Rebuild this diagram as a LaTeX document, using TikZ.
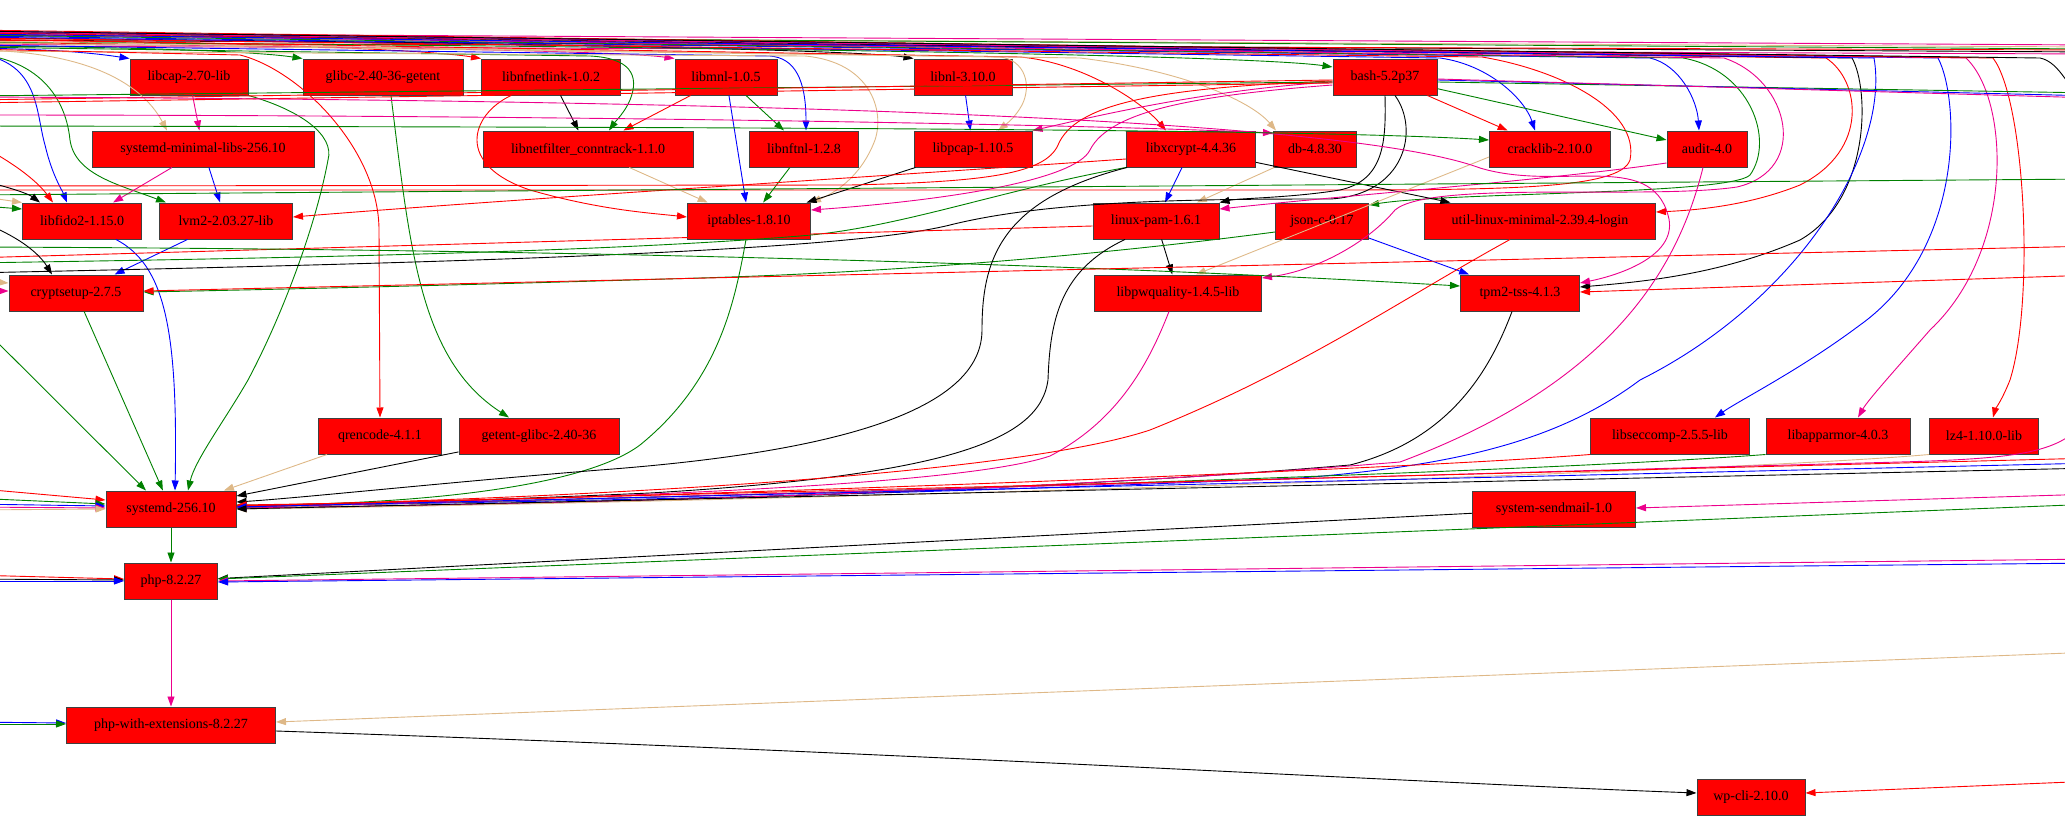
\documentclass[tikz,border=0pt]{standalone}
\usepackage{fontspec}
\setmainfont{Liberation Serif}
\usepackage{tikz}
\usetikzlibrary{arrows.meta}
\definecolor{dgreen}{HTML}{008000}
\definecolor{burly}{HTML}{DEB887}

\begin{document}
\begin{tikzpicture}[x=1pt,y=-1pt,->,>={Triangle[length=10pt,width=7pt]},line width=0.9pt]
  \tikzstyle{pkg}=[draw=black!75,fill=red,line width=1pt,minimum height=36pt,inner sep=0pt,font=\fontsize{14}{16}\selectfont]
  \useasboundingbox (0,0) rectangle (2065,819);

  \node[pkg,minimum width=118pt] (libcap)     at (189,77)   {libcap-2.70-lib};
  \node[pkg,minimum width=160pt] (glibcget)   at (383,77)   {glibc-2.40-36-getent};
  \node[pkg,minimum width=139pt] (nfnetlink)  at (551,77)   {libnfnetlink-1.0.2};
  \node[pkg,minimum width=102pt] (libmnl)     at (726,77)   {libmnl-1.0.5};
  \node[pkg,minimum width=98pt]  (libnl)      at (963,77)   {libnl-3.10.0};
  \node[pkg,minimum width=104pt] (bash)       at (1385,77)  {bash-5.2p37};

  \node[pkg,minimum width=222pt] (sysmin)     at (203,149)  {systemd-minimal-libs-256.10};
  \node[pkg,minimum width=210pt] (conntrack)  at (588,149)  {libnetfilter\_conntrack-1.1.0};
  \node[pkg,minimum width=109pt] (nftnl)      at (804,149)  {libnftnl-1.2.8};
  \node[pkg,minimum width=118pt] (libpcap)    at (973,149)  {libpcap-1.10.5};
  \node[pkg,minimum width=129pt] (libxcrypt)  at (1191,149) {libxcrypt-4.4.36};
  \node[pkg,minimum width=83pt]  (db)         at (1315,149) {db-4.8.30};
  \node[pkg,minimum width=121pt] (cracklib)   at (1550,149) {cracklib-2.10.0};
  \node[pkg,minimum width=80pt]  (audit)      at (1707,149) {audit-4.0};

  \node[pkg,minimum width=119pt] (libfido)    at (82,221)   {libfido2-1.15.0};
  \node[pkg,minimum width=133pt] (lvm)        at (226,221)  {lvm2-2.03.27-lib};
  \node[pkg,minimum width=123pt] (iptables)   at (749,221)  {iptables-1.8.10};
  \node[pkg,minimum width=126pt] (pam)        at (1156,221) {linux-pam-1.6.1};
  \node[pkg,minimum width=93pt]  (jsonc)      at (1322,221) {json-c-0.17};
  \node[pkg,minimum width=231pt] (utillinux)  at (1540,221) {util-linux-minimal-2.39.4-login};

  \node[pkg,minimum width=134pt] (cryptsetup) at (76,293)   {cryptsetup-2.7.5};
  \node[pkg,minimum width=167pt] (pwquality)  at (1178,293) {libpwquality-1.4.5-lib};
  \node[pkg,minimum width=119pt] (tpm)        at (1520,293) {tpm2-tss-4.1.3};

  \node[pkg,minimum width=123pt] (qrencode)   at (380,436)  {qrencode-4.1.1};
  \node[pkg,minimum width=160pt] (getent)     at (539,436)  {getent-glibc-2.40-36};
  \node[pkg,minimum width=159pt] (seccomp)    at (1670,436) {libseccomp-2.5.5-lib};
  \node[pkg,minimum width=144pt] (apparmor)   at (1838,436) {libapparmor-4.0.3};
  \node[pkg,minimum width=109pt] (lz4)        at (1984,436) {lz4-1.10.0-lib};

  \node[pkg,minimum width=130pt] (systemd)    at (171,509)  {systemd-256.10};
  \node[pkg,minimum width=163pt] (sendmail)   at (1554,509) {system-sendmail-1.0};
  \node[pkg,minimum width=93pt]  (php)        at (171,581)  {php-8.2.27};
  \node[pkg,minimum width=209pt] (phpext)     at (171,725)  {php-with-extensions-8.2.27};
  \node[pkg,minimum width=108pt] (wpcli)      at (1751,797) {wp-cli-2.10.0};

  \coordinate (l1) at (-30,48);  \coordinate (l2) at (-30,46);  \coordinate (l3) at (-30,40);
  \coordinate (l4) at (-30,44);  \coordinate (l5) at (-30,38);  \coordinate (l6) at (-30,42);
  \coordinate (l7) at (-30,50);  \coordinate (l8) at (-30,47);  \coordinate (l9) at (-30,45);
  \coordinate (l10) at (-30,41); \coordinate (l11) at (-30,39); \coordinate (l12) at (-30,43);
  \coordinate (l13) at (-30,37); \coordinate (l14) at (-30,36); \coordinate (l15) at (-30,35);
  \coordinate (l16) at (-30,34); \coordinate (l17) at (-30,33); \coordinate (l18) at (-30,32);
  \coordinate (l19) at (-30,34); \coordinate (l20) at (-30,31); \coordinate (l21) at (-30,32);
  \coordinate (l22) at (-30,30); \coordinate (l23) at (-30,31); \coordinate (l24) at (-30,49);
  \coordinate (l25) at (-30,38); \coordinate (l26) at (-30,190); \coordinate (l27) at (-30,53);
  \coordinate (l28) at (-30,54); \coordinate (l29) at (-30,51);
  \coordinate (l30) at (-30,33); \coordinate (l31) at (-30,36); \coordinate (l32) at (-30,40);
  \coordinate (l33) at (-30,43); \coordinate (l34) at (-30,46); \coordinate (l35) at (-30,35);
  \coordinate (l36) at (-30,96); \coordinate (l37) at (-30,100); \coordinate (l38) at (-30,103);
  \coordinate (l39) at (-30,97); \coordinate (l40) at (-30,115); \coordinate (l41) at (-30,126);
  \coordinate (l42) at (-30,140); \coordinate (l43) at (-30,178); \coordinate (l44) at (-30,186);
  \coordinate (l45) at (-30,195); \coordinate (l46) at (-30,195); \coordinate (l47) at (-30,205);
  \coordinate (l48) at (-30,218); \coordinate (l49) at (-30,247); \coordinate (l50) at (-30,258);
  \coordinate (l51) at (-30,263); \coordinate (l52) at (-30,273); \coordinate (l53) at (-30,280);
  \coordinate (l54) at (-30,291); \coordinate (l55) at (-30,315);
  \coordinate (l56) at (-30,488); \coordinate (l57) at (-30,498); \coordinate (l58) at (-30,504);
  \coordinate (l59) at (-30,507); \coordinate (l60) at (-30,510);
  \coordinate (l61) at (-30,575); \coordinate (l62) at (-30,579); \coordinate (l63) at (-30,581);
  \coordinate (l64) at (-30,722); \coordinate (l65) at (-30,724);

  \coordinate (r1) at (2095,120); \coordinate (r2) at (2095,45); \coordinate (r3) at (2095,47);
  \coordinate (r4) at (2095,52);  \coordinate (r5) at (2095,50); \coordinate (r6) at (2095,54);
  \coordinate (r7) at (2095,49);  \coordinate (r8) at (2095,179); \coordinate (r9) at (2095,93);
  \coordinate (r10) at (2095,96); \coordinate (r11) at (2095,98); \coordinate (r12) at (2095,246);
  \coordinate (r13) at (2095,275); \coordinate (r14) at (2095,410); \coordinate (r15) at (2095,458);
  \coordinate (r16) at (2095,463); \coordinate (r17) at (2095,468); \coordinate (r18) at (2095,494);
  \coordinate (r19) at (2095,504); \coordinate (r20) at (2095,559); \coordinate (r21) at (2095,563);
  \coordinate (r22) at (2095,652); \coordinate (r23) at (2095,781);

  \draw[magenta] (l30) -- (r2);
  \draw[burly] (l31) -- (r3);
  \draw (l32) -- (r4);
  \draw[red] (l33) -- (r5);
  \draw[magenta] (l34) -- (r6);
  \draw[dgreen] (l35) -- (r7);

  \draw[blue] (l1) .. controls (60,49) and (100,54) .. (libcap.north west);
  \draw[dgreen] (l2) .. controls (150,47) and (260,52) .. (glibcget.north west);
  \draw[red] (l3) .. controls (250,42) and (430,50) .. (nfnetlink.north west);
  \draw[magenta] (l4) .. controls (350,46) and (620,51) .. (libmnl.north west);
  \draw (l5) .. controls (500,42) and (860,50) .. (libnl.north west);
  \draw[dgreen] (l6) .. controls (700,46) and (1250,55) .. ([yshift=10pt]bash.west);

  \draw[burly] (l7) .. controls (80,50) and (140,80) .. ([xshift=-36pt]sysmin.north);
  \draw[dgreen] (l8) -- (590,56) .. controls (630,58) and (640,75) .. (630,100) .. controls (625,112) and (615,122) .. ([xshift=21pt]conntrack.north);
  \draw[blue] (l9) -- (770,56) .. controls (795,58) and (806,80) .. ([xshift=2pt]nftnl.north);
  \draw[burly] (l10) -- (1000,57) .. controls (1025,60) and (1032,85) .. (1022,105) .. controls (1015,118) and (1005,125) .. ([xshift=25pt]libpcap.north);
  \draw[red] (l11) -- (1020,57) .. controls (1080,62) and (1140,100) .. ([xshift=-25pt]libxcrypt.north);
  \draw[burly] (l12) -- (1080,58) .. controls (1180,70) and (1250,100) .. ([xshift=-39pt]db.north);
  \draw[blue] (l13) -- (1440,58) .. controls (1490,65) and (1525,100) .. ([xshift=-15pt]cracklib.north);
  \draw[blue] (l14) -- (1650,58) .. controls (1680,65) and (1697,100) .. ([xshift=-8pt]audit.north);
  \draw[burly] (l29) -- (805,56) .. controls (870,62) and (885,110) .. (875,140) .. controls (860,180) and (830,195) .. (iptables.north east);

  \draw[dgreen] (l15) -- (1683,58) .. controls (1750,70) and (1775,140) .. (1750,175) .. controls (1730,195) and (1450,192) .. ([yshift=16pt]jsonc.east);
  \draw[magenta] (l16) -- (1724,58) .. controls (1790,80) and (1810,170) .. (1737,187) .. controls (1650,200) and (1430,180) .. (1395,210) .. controls (1370,240) and (1320,270) .. ([yshift=15pt]pwquality.east);
  \draw[red] (l17) -- (1826,58) .. controls (1860,80) and (1870,150) .. (1800,185) .. controls (1750,205) and (1700,210) .. ([yshift=9pt]utillinux.east);
  \draw (l18) -- (1852,58) .. controls (1870,90) and (1870,200) .. (1800,240) .. controls (1720,275) and (1640,282) .. ([yshift=6pt]tpm.east);
  \draw[blue] (l19) -- (1874,58) .. controls (1890,150) and (1800,300) .. (1640,380) .. controls (1560,440) and (1460,465) .. (1300,478) .. controls (900,495) and (500,503) .. ([yshift=3pt]systemd.east);
  \draw[blue] (l20) -- (1938,58) .. controls (1960,100) and (1965,250) .. (1860,325) .. controls (1800,370) and (1740,400) .. ([xshift=45pt]seccomp.north);
  \draw[magenta] (l21) -- (1966,58) .. controls (2010,100) and (2015,250) .. (1930,330) .. controls (1895,370) and (1868,400) .. ([xshift=20pt]apparmor.north);
  \draw[red] (l22) -- (1993,58) .. controls (2025,100) and (2035,300) .. (2010,380) .. controls (2002,400) and (1995,410) .. ([xshift=9pt]lz4.north);
  \draw (l23) -- (2040,58) .. controls (2060,62) and (2070,90) .. (r1);
  \draw[red] (l24) -- (240,55) .. controls (300,70) and (379,150) .. (379,230) -- (qrencode.north);
  \draw[red] (l25) -- (1482,57) .. controls (1560,70) and (1640,110) .. (1630,160) .. controls (1620,190) and (1500,190) .. (1300,190) -- (l26);
  \draw[blue] (l27) .. controls (40,58) and (35,110) .. (45,145) .. controls (52,175) and (62,190) .. ([xshift=-15pt]libfido.north);
  \draw[dgreen] (l28) .. controls (30,56) and (65,90) .. (70,140) .. controls (75,175) and (120,185) .. ([xshift=-60pt]lvm.north);

  \path (libcap) edge[magenta] (sysmin)
        (nfnetlink) edge (conntrack)
        (libmnl) edge[red] (conntrack)
        (libmnl) edge[dgreen] (nftnl)
        (libnl) edge[blue] (libpcap)
        (bash) edge[red] (cracklib)
        (bash) edge[dgreen] (audit)
        (sysmin) edge[magenta] (libfido)
        (sysmin) edge[blue] (lvm)
        (libmnl) edge[blue] (iptables)
        (nftnl) edge[dgreen] (iptables)
        (libpcap) edge (iptables)
        (conntrack) edge[burly] (iptables)
        (libxcrypt) edge[blue] (pam)
        (db) edge[burly] (pam)
        (libxcrypt) edge (utillinux)
        (pam) edge (pwquality)
        (jsonc) edge[blue] (tpm)
        (lvm) edge[blue] (cryptsetup)
        (qrencode) edge[burly] (systemd)
        (getent) edge (systemd)
        (cryptsetup) edge[dgreen] (systemd)
        (systemd) edge[dgreen] (php)
        (php) edge[magenta] (phpext)
        (sendmail) edge (php);

  \draw[dgreen] ([xshift=8pt]glibcget.south) .. controls (410,250) and (420,360) .. ([xshift=-30pt]getent.north);
  \draw[dgreen] (libcap.south east) .. controls (300,110) and (335,135) .. (328,160) .. controls (315,230) and (280,320) .. (248,380) .. controls (225,420) and (195,460) .. ([xshift=17pt]systemd.north);
  \draw[blue] ([xshift=34pt]libfido.south) .. controls (165,265) and (178,330) .. ([xshift=4pt]systemd.north);
  \draw[dgreen] (l55) -- ([xshift=-25pt]systemd.north);
  \draw[red] ([xshift=-40pt]nfnetlink.south) .. controls (470,115) and (455,165) .. (530,190) .. controls (600,210) and (650,213) .. ([yshift=4pt]iptables.west);
  \draw[magenta] ([yshift=-8pt]bash.west) .. controls (1200,95) and (1110,110) .. (1090,150) .. controls (1075,180) and (950,200) .. ([yshift=11pt]iptables.east);
  \draw[magenta] ([yshift=-5pt]bash.west) .. controls (1200,90) and (1080,120) .. (libpcap.north east);
  \draw[red] ([yshift=-4pt]bash.west) .. controls (1150,88) and (1075,105) .. (1058,145) .. controls (1045,175) and (980,182) .. (850,185) -- (l44);
  \draw (bash.south) .. controls (1386,140) and (1385,180) .. (1340,190) .. controls (1290,198) and (1240,198) .. (pam.north east);
  \draw ([xshift=10pt]bash.south) .. controls (1420,130) and (1405,195) .. (1330,199) .. controls (1200,199) and (1050,200) .. (950,225) .. controls (850,250) and (500,262) .. (l52);
  \draw[magenta] ([yshift=-14pt]audit.west) .. controls (1550,180) and (1350,195) .. ([yshift=12pt]pam.east);
  \draw[burly] ([yshift=-8pt]cracklib.west) -- ([xshift=18pt]pwquality.north);
  \draw[red] ([yshift=-10pt]libxcrypt.west) .. controls (900,175) and (500,200) .. ([yshift=4pt]lvm.east);
  \draw[dgreen] (libxcrypt.south west) .. controls (1000,190) and (900,228) .. (800,236) .. controls (600,252) and (300,258) .. (l51);
  \draw[dgreen] ([yshift=-11pt]jsonc.west) .. controls (1100,255) and (900,272) .. (700,278) .. controls (500,284) and (300,289) .. ([yshift=1pt]cryptsetup.east);
  \draw[red] ([yshift=-5pt]pam.west) -- (l50);
  \draw[dgreen] (l49) .. controls (600,249) and (1100,265) .. ([yshift=7pt]tpm.west);
  \draw[red] (r12) -- ([yshift=2pt]cryptsetup.east);
  \draw[red] (r13) -- ([yshift=1pt]tpm.east);
  \draw[dgreen] (l45) -- (r8);

  \draw[red] (l42) .. controls (20,165) and (40,185) .. ([xshift=-29pt]libfido.north);
  \draw (l43) .. controls (15,188) and (30,195) .. ([xshift=-42pt]libfido.north);
  \draw[burly] (l46) -- (libfido.north west);
  \draw[dgreen] (l47) -- ([yshift=12pt]libfido.west);
  \draw (l48) .. controls (20,235) and (40,255) .. ([xshift=-24pt]cryptsetup.north);
  \draw[burly] (l53) -- ([yshift=10pt]cryptsetup.west);
  \draw[magenta] (l54) -- ([yshift=2pt]cryptsetup.west);

  \draw[dgreen] ([yshift=-5pt]bash.west) -- (l36);
  \draw[red] ([yshift=-3pt]bash.west) -- (l37);
  \draw[red] ([yshift=-6pt]bash.west) -- (l38);
  \draw[magenta] (l39) .. controls (800,100) and (1350,120) .. (1480,168) .. controls (1560,192) and (1650,150) .. (1668,215) .. controls (1680,255) and (1620,275) .. ([yshift=10pt]tpm.east);
  \draw[magenta] (l40) .. controls (600,115) and (1100,125) .. ([yshift=16pt]db.west);
  \draw[dgreen] (l41) .. controls (600,127) and (1300,128) .. ([yshift=9pt]cracklib.west);
  \draw[dgreen] ([yshift=-5pt]bash.east) -- (r9);
  \draw[blue] ([yshift=-3pt]bash.east) -- (r10);
  \draw[magenta] ([yshift=-2pt]bash.east) -- (r11);

  \draw[dgreen] ([xshift=-3pt]iptables.south) .. controls (735,300) and (720,380) .. (640,445) .. controls (580,490) and (400,505) .. ([yshift=4pt]systemd.east);
  \draw ([xshift=-64pt]libxcrypt.south) .. controls (1000,200) and (982,260) .. (982,330) .. controls (982,420) and (800,455) .. (600,470) .. controls (450,482) and (300,498) .. ([yshift=7pt]systemd.east);
  \draw ([xshift=-31pt]pam.south) .. controls (1060,270) and (1050,320) .. (1048,380) .. controls (1040,440) and (950,475) .. (650,493) .. controls (450,502) and (300,505) .. ([yshift=3pt]systemd.east);
  \draw[magenta] ([xshift=-9pt]pwquality.south) .. controls (1150,360) and (1120,420) .. (1050,456) .. controls (950,490) and (500,500) .. ([yshift=2pt]systemd.east);
  \draw[red] ([xshift=-30pt]utillinux.south) .. controls (1400,300) and (1300,370) .. (1150,430) .. controls (1000,480) and (500,500) .. ([yshift=3pt]systemd.east);
  \draw ([xshift=-8pt]tpm.south) .. controls (1490,370) and (1450,440) .. (1350,465) .. controls (1000,495) and (500,505) .. ([yshift=1pt]systemd.east);
  \draw[magenta] ([xshift=-4pt]audit.south) .. controls (1680,260) and (1620,380) .. (1400,462) .. controls (1000,495) and (500,505) .. ([yshift=1pt]systemd.east);
  \draw[red] (seccomp.south west) .. controls (1400,470) and (600,500) .. ([yshift=4pt]systemd.east);
  \draw[dgreen] (apparmor.south west) .. controls (1500,475) and (600,500) .. ([yshift=2pt]systemd.east);
  \draw[burly] (lz4.south west) .. controls (1700,475) and (600,505) .. (systemd.east);
  \draw[magenta] (r14) .. controls (2065,450) and (2040,458) .. (1900,462) .. controls (1300,478) and (600,500) .. ([yshift=2pt]systemd.east);
  \draw[red] (r15) -- ([yshift=3pt]systemd.east);
  \draw[blue] (r16) -- ([yshift=2pt]systemd.east);
  \draw (r17) -- (systemd.east);
  \draw[red] (l56) -- ([yshift=9pt]systemd.west);
  \draw[dgreen] (l57) -- ([yshift=5pt]systemd.west);
  \draw[blue] (l58) -- ([yshift=3pt]systemd.west);
  \draw[magenta] (l59) -- ([yshift=1pt]systemd.west);
  \draw[burly] (l60) -- (systemd.west);

  \draw[magenta] (r18) -- ([yshift=1pt]sendmail.east);
  \draw[dgreen] (r19) -- ([yshift=2pt]php.east);
  \draw[magenta] (r20) -- (php.east);
  \draw[blue] (r21) -- ([yshift=-1pt]php.east);
  \draw[red] (l61) -- ([yshift=2pt]php.west);
  \draw (l62) -- ([yshift=1pt]php.west);
  \draw[blue] (l63) -- (php.west);
  \draw[burly] (r22) -- ([yshift=3pt]phpext.east);
  \draw[blue] (l64) -- ([yshift=2pt]phpext.west);
  \draw[dgreen] (l65) -- ([yshift=1pt]phpext.west);
  \draw ([yshift=-6pt]phpext.east) .. controls (900,752) and (1400,782) .. ([yshift=4pt]wpcli.west);
  \draw[red] (r23) -- ([yshift=4pt]wpcli.east);
\end{tikzpicture}
\end{document}
